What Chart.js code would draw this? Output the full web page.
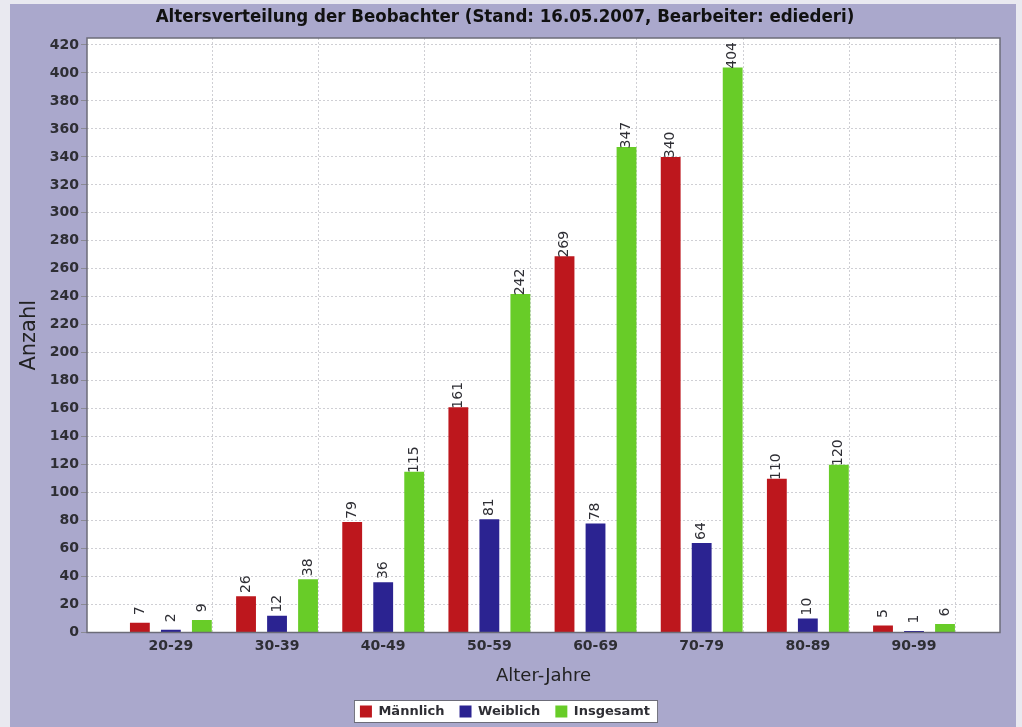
<!DOCTYPE html>
<html>
<head>
<meta charset="utf-8">
<title>Altersverteilung der Beobachter</title>
<script src="https://cdn.jsdelivr.net/npm/chart.js@4.4.1/dist/chart.umd.min.js"></script>
<style>
  html, body { margin: 0; padding: 0; background: #e9e9f0; }
  #wrap { position: relative; width: 1022px; height: 727px; }
</style>
</head>
<body>
<div id="wrap"><canvas id="chart"></canvas></div>
<script>
// Altersgruppen und Anzahl der Beobachter je Gruppe
const categories = ["20-29", "30-39", "40-49", "50-59", "60-69", "70-79", "80-89", "90-99"];
const maennlich = [7, 26, 79, 161, 269, 340, 110, 5];
const weiblich = [2, 12, 36, 81, 78, 64, 10, 1];
const insgesamt = [9, 38, 115, 242, 347, 404, 120, 6];

const Y_MAX = 425;
const Y_STEP = 20;

const FONT = '"DejaVu Sans", Verdana, sans-serif';
const TEXT = "#2e2e34";
const GRID = "#cfcfd4";

const toPoints = (values) => values.map((y, x) => ({ x, y }));

// frame, background, vertical grid and rotated value labels
const plotDecor = {
  id: "plotDecor",
  beforeDraw(chart) {
    const { ctx, chartArea: a, width, height } = chart;
    ctx.save();
    ctx.fillStyle = "#aaa8cc";
    ctx.fillRect(10, 4, width - 16, height - 4);
    ctx.fillStyle = "#ffffff";
    ctx.fillRect(a.left, a.top, a.right - a.left, a.bottom - a.top);

    const boxes = chart.legend && chart.legend.legendHitBoxes;
    if (boxes && boxes.length) {
      const first = boxes[0];
      const last = boxes[boxes.length - 1];
      const x0 = first.left - 6;
      const x1 = last.left + last.width + 8;
      const y0 = first.top - 5;
      const y1 = first.top + first.height + 5;
      ctx.fillStyle = "#ffffff";
      ctx.fillRect(x0, y0, x1 - x0, y1 - y0);
      ctx.strokeStyle = "#6c6c78";
      ctx.lineWidth = 1;
      ctx.strokeRect(x0 + 0.5, y0 + 0.5, x1 - x0 - 1, y1 - y0 - 1);
    }
    ctx.restore();
  },
  beforeDatasetsDraw(chart) {
    const { ctx, chartArea: a } = chart;
    const meta = chart.getDatasetMeta(2);
    ctx.save();
    ctx.strokeStyle = GRID;
    ctx.lineWidth = 1;
    ctx.setLineDash([2, 2]);
    meta.data.forEach((bar) => {
      const x = Math.round(bar.x + bar.width / 2) + 0.5;
      ctx.beginPath();
      ctx.moveTo(x, a.top);
      ctx.lineTo(x, a.bottom);
      ctx.stroke();
    });
    ctx.restore();
  },
  afterDatasetsDraw(chart) {
    const { ctx, chartArea: a } = chart;
    ctx.save();
    ctx.strokeStyle = "#6c6c78";
    ctx.lineWidth = 1.5;
    ctx.strokeRect(a.left, a.top, a.right - a.left, a.bottom - a.top);

    ctx.fillStyle = TEXT;
    ctx.font = "14px " + FONT;
    ctx.textAlign = "center";
    ctx.textBaseline = "middle";
    chart.data.datasets.forEach((ds, di) => {
      chart.getDatasetMeta(di).data.forEach((bar, i) => {
        ctx.save();
        ctx.translate(bar.x, bar.y - 12);
        ctx.rotate(-Math.PI / 2);
        ctx.fillText(String(ds.data[i].y), 0, 0);
        ctx.restore();
      });
    });
    ctx.restore();
  },
};

new Chart(document.getElementById("chart"), {
  type: "bar",
  data: {
    datasets: [
      { label: "Männlich", data: toPoints(maennlich), backgroundColor: "#bd171d" },
      { label: "Weiblich", data: toPoints(weiblich), backgroundColor: "#2b2391" },
      { label: "Insgesamt", data: toPoints(insgesamt), backgroundColor: "#68cc28" },
    ],
  },
  options: {
    responsive: true,
    maintainAspectRatio: false,
    animation: false,
    categoryPercentage: 0.876,
    barPercentage: 0.64,
    layout: { padding: { top: 4, left: 10, right: 22, bottom: 0 } },
    plugins: {
      title: {
        display: true,
        text: "Altersverteilung der Beobachter (Stand: 16.05.2007, Bearbeiter: ediederi)",
        color: "#111",
        font: { family: '"DejaVu Sans Condensed", "Liberation Sans Narrow", ' + FONT, size: 18.5, weight: "bold" },
        padding: { top: 2, bottom: 9.8 },
      },
      legend: {
        position: "bottom",
        maxHeight: 37,
        labels: {
          color: TEXT,
          font: { family: FONT, size: 13, weight: "bold" },
          boxWidth: 12,
          boxHeight: 12,
          padding: 15,
        },
      },
      tooltip: { enabled: false },
    },
    scales: {
      x: {
        type: "linear",
        offset: false,
        min: -0.79,
        max: 7.81,
        afterFit: (scale) => { scale.height = 57.5; },
        grid: { display: false, drawTicks: false },
        border: { display: false },
        ticks: {
          stepSize: 1,
          includeBounds: false,
          autoSkip: false,
          maxRotation: 0,
          padding: 5,
          color: TEXT,
          font: { family: FONT, size: 14, weight: "bold" },
          callback: (v) => categories[v] ?? "",
        },
        title: {
          display: true,
          text: "Alter-Jahre",
          color: "#222",
          font: { family: FONT, size: 18 },
          padding: { top: 0, bottom: 3 },
        },
      },
      y: {
        min: 0,
        max: Y_MAX,
        afterFit: (scale) => { scale.width = 77; },
        grid: { color: GRID, tickColor: "#8a8a94", tickLength: 6 },
        border: { display: false, dash: [2, 2] },
        ticks: {
          stepSize: Y_STEP,
          includeBounds: false,
          padding: 2,
          color: TEXT,
          font: { family: FONT, size: 14, weight: "bold" },
        },
        title: {
          display: true,
          text: "Anzahl",
          color: "#222",
          font: { family: FONT, size: 21 },
          padding: { top: 7 },
        },
      },
    },
  },
  plugins: [plotDecor],
});
</script>
</body>
</html>
